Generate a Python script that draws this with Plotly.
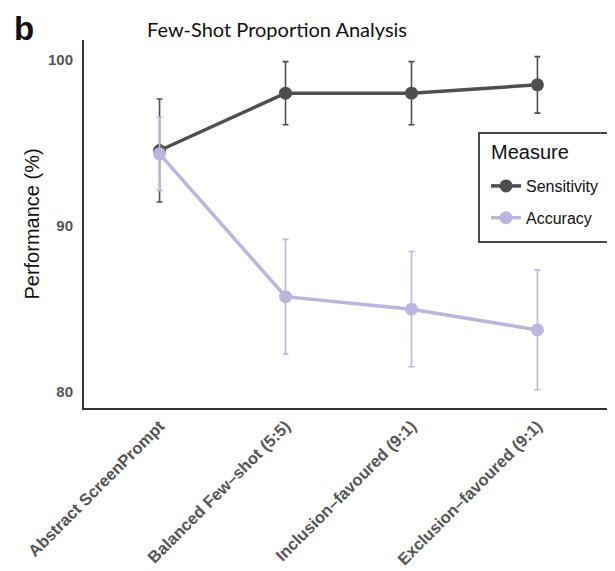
import plotly.graph_objects as go

categories = ["Abstract ScreenPrompt", "Balanced Few–shot (5:5)",
              "Inclusion–favoured (9:1)", "Exclusion–favoured (9:1)"]
sensitivity = [94.55, 98.0, 98.0, 98.5]
sensitivity_err = [3.1, 1.9, 1.9, 1.7]
accuracy = [94.35, 85.75, 85.0, 83.75]
accuracy_err = [2.2, 3.45, 3.47, 3.6]
y_ticks = [80, 90, 100]

SENS_COLOR = "#4f4f4f"
ACC_COLOR = "#bab6df"
FONT = "Liberation Sans, Arial, sans-serif"

# page body has an 8px margin: figure coords = screen coords - 8
OFF = 8
FW, FH = 615 - OFF, 571 - OFF
L, R, T, B = 84, 613, 40, 408          # plot area in screen coords
W, H = R - L, B - T


def px(x):
    return (x - L) / W


def py(y):
    return (B - y) / H


fig = go.Figure()
fig.add_trace(go.Scatter(
    x=categories, y=sensitivity, name="Sensitivity", mode="lines+markers",
    legendgroup="s",
    line=dict(color=SENS_COLOR, width=3.5),
    marker=dict(color=SENS_COLOR, size=13),
    error_y=dict(type="data", array=sensitivity_err, color=SENS_COLOR,
                 thickness=1.6, width=3),
))
fig.add_trace(go.Scatter(
    x=categories, y=accuracy, name="Accuracy", mode="lines+markers",
    legendgroup="a",
    line=dict(color=ACC_COLOR, width=3.5),
    marker=dict(color=ACC_COLOR, size=13),
    error_y=dict(type="data", array=accuracy_err, color=ACC_COLOR,
                 thickness=1.6, width=3),
))

fig.update_layout(
    width=FW, height=FH,
    margin=dict(l=L - OFF, r=FW - (R - OFF), t=T - OFF, b=FH - (B - OFF)),
    paper_bgcolor="white", plot_bgcolor="white",
    font=dict(family=FONT, color="#4d4d4d"),
    title=dict(text="Few-Shot Proportion Analysis",
               font=dict(family="Lato, sans-serif", size=20, color="#111"),
               x=(277 - OFF) / FW, xanchor="center",
               y=1 - (30 - OFF) / FH, yanchor="middle",
               xref="container", yref="container"),
    showlegend=True,
    legend=dict(
        font=dict(size=16, color="#111"),
        x=px(486), xanchor="left", y=py(169), yanchor="top",
        borderwidth=0, bgcolor="rgba(0,0,0,0)",
        itemwidth=30, tracegroupgap=8,
    ),
    shapes=[dict(type="rect", xref="paper", yref="paper",
                 x0=px(479), x1=px(610), y0=py(242), y1=py(133),
                 line=dict(color="#111", width=1.5), fillcolor="white",
                 layer="above")],
    xaxis=dict(
        type="category", range=[-0.6, 3.6], automargin=False,
        showline=True, linecolor="#333", linewidth=2,
        showgrid=False, zeroline=False, ticks="",
        tickangle=-45, tickfont=dict(size=16.5, color="#555", weight="bold"),
    ),
    yaxis=dict(
        range=[79.05, 101.2], tickvals=y_ticks, automargin=False,
        showline=True, linecolor="#333", linewidth=2,
        showgrid=False, zeroline=False, ticks="",
        tickfont=dict(size=15, color="#555", weight="bold"),
        ticklabelstandoff=6,
        title=dict(text="Performance (%)", font=dict(size=20, color="#111"),
                   standoff=3),
    ),
    annotations=[
        dict(text="<b>b</b>", xref="paper", yref="paper",
             x=px(12), y=py(8), xanchor="left", yanchor="top",
             showarrow=False, font=dict(family=FONT, size=33, color="#111")),
        dict(text="Measure", xref="paper", yref="paper",
             x=px(489), y=py(152), xanchor="left", yanchor="middle",
             showarrow=False, font=dict(family=FONT, size=20, color="#111")),
    ],
)

fig.write_html("out.html")
